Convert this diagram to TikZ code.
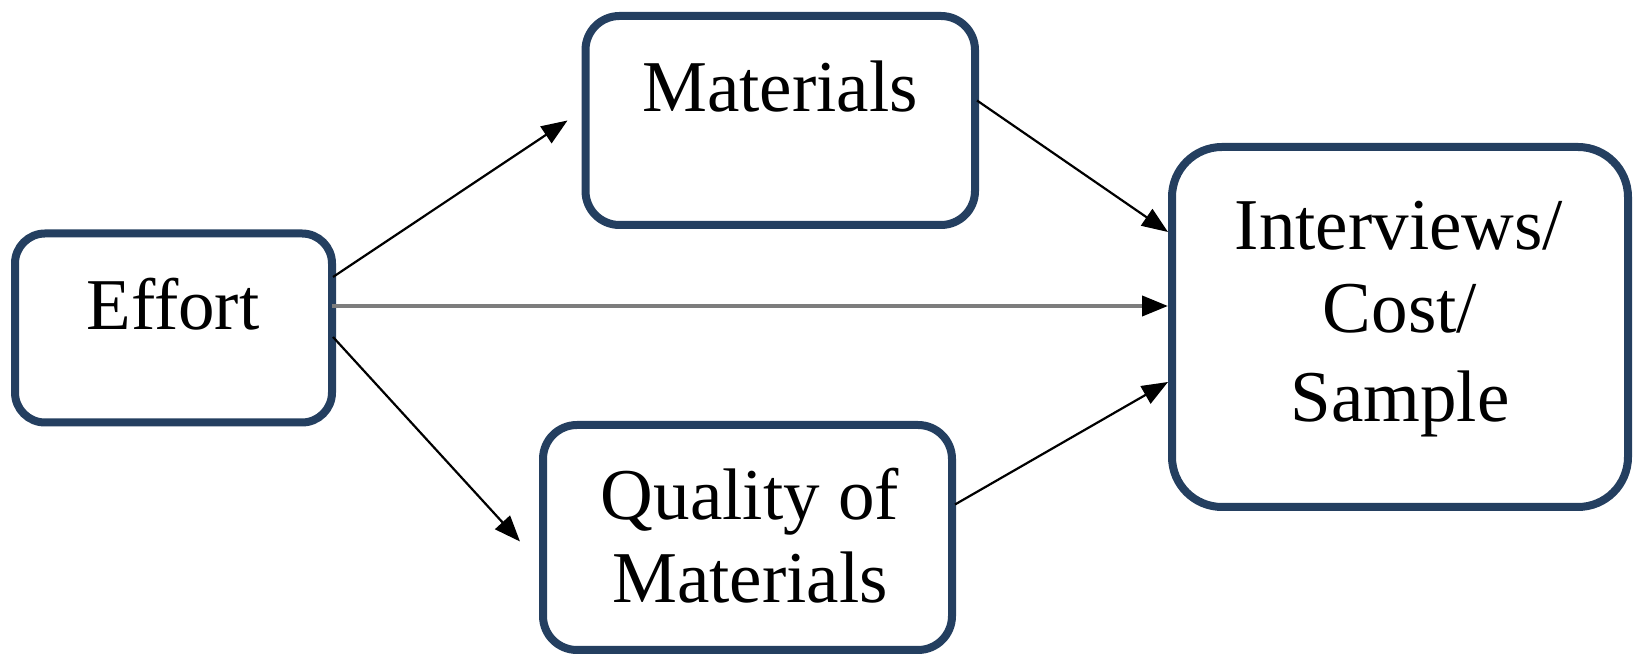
\documentclass[tikz,border=0pt]{standalone}
\usepackage{fontspec}
\setmainfont{Liberation Serif}
\usetikzlibrary{arrows.meta,calc}
\definecolor{boxline}{RGB}{36,63,96}
\definecolor{grayline}{RGB}{125,125,125}
\tikzset{
  box/.style={draw=boxline, line width=4pt, rectangle, outer sep=0pt, inner sep=0pt},
  lbl/.style={anchor=base, inner sep=0pt, font=\fontsize{36.5pt}{43pt}\selectfont},
  arr/.style={draw=black, line width=1.1pt, -{Triangle[length=13pt,width=10pt]}},
  garr/.style={draw=grayline, line width=2pt, -{Triangle[length=13pt,width=10pt,fill=black,color=black]}}
}
\begin{document}
\begin{tikzpicture}[x=0.5pt,y=-0.5pt]
\useasboundingbox (0,0) rectangle (1640,656);
% boxes
\node[box, rounded corners=15pt, minimum width=158.5pt, minimum height=94.5pt] (effort) at (173.5,328) {};
\node[box, rounded corners=17pt, minimum width=194.75pt, minimum height=104.5pt] (materials) at (780.25,120.5) {};
\node[box, rounded corners=25pt, minimum width=228pt, minimum height=180pt] (interviews) at (1400,327) {};
\node[box, rounded corners=17pt, minimum width=204.5pt, minimum height=112.5pt] (quality) at (747.5,537.5) {};
% labels
\node[lbl] (teffort) at (173,330) {Effort};
\node[lbl] (tmat) at (780,112) {Materials};
\node[lbl] (tint1) at (1399,250) {Interviews/};
\node[lbl] (tint2) at (1400,333) {Cost/};
\node[lbl] (tint3) at (1400,422) {Sample};
\node[lbl] (tq1) at (750,520) {Quality of};
\node[lbl] (tq2) at (750,603) {Materials};
% connectors
\draw[arr] ($(effort.east)+(1,-51)$) -- ($(materials.west)+(-18,0)$);
\draw[arr] ($(effort.east)+(1,9)$) -- ($(quality.west)+(-23,4)$);
\draw[garr] ($(effort.east)+(0,-22)$) -- ($(interviews.west)+(-4,-21)$);
\draw[arr] ($(materials.east)+(2,-20)$) -- ($(interviews.west)+(-4,-95)$);
\draw[arr] ($(quality.east)+(3,-33)$) -- ($(interviews.west)+(-4,55)$);
\end{tikzpicture}
\end{document}
